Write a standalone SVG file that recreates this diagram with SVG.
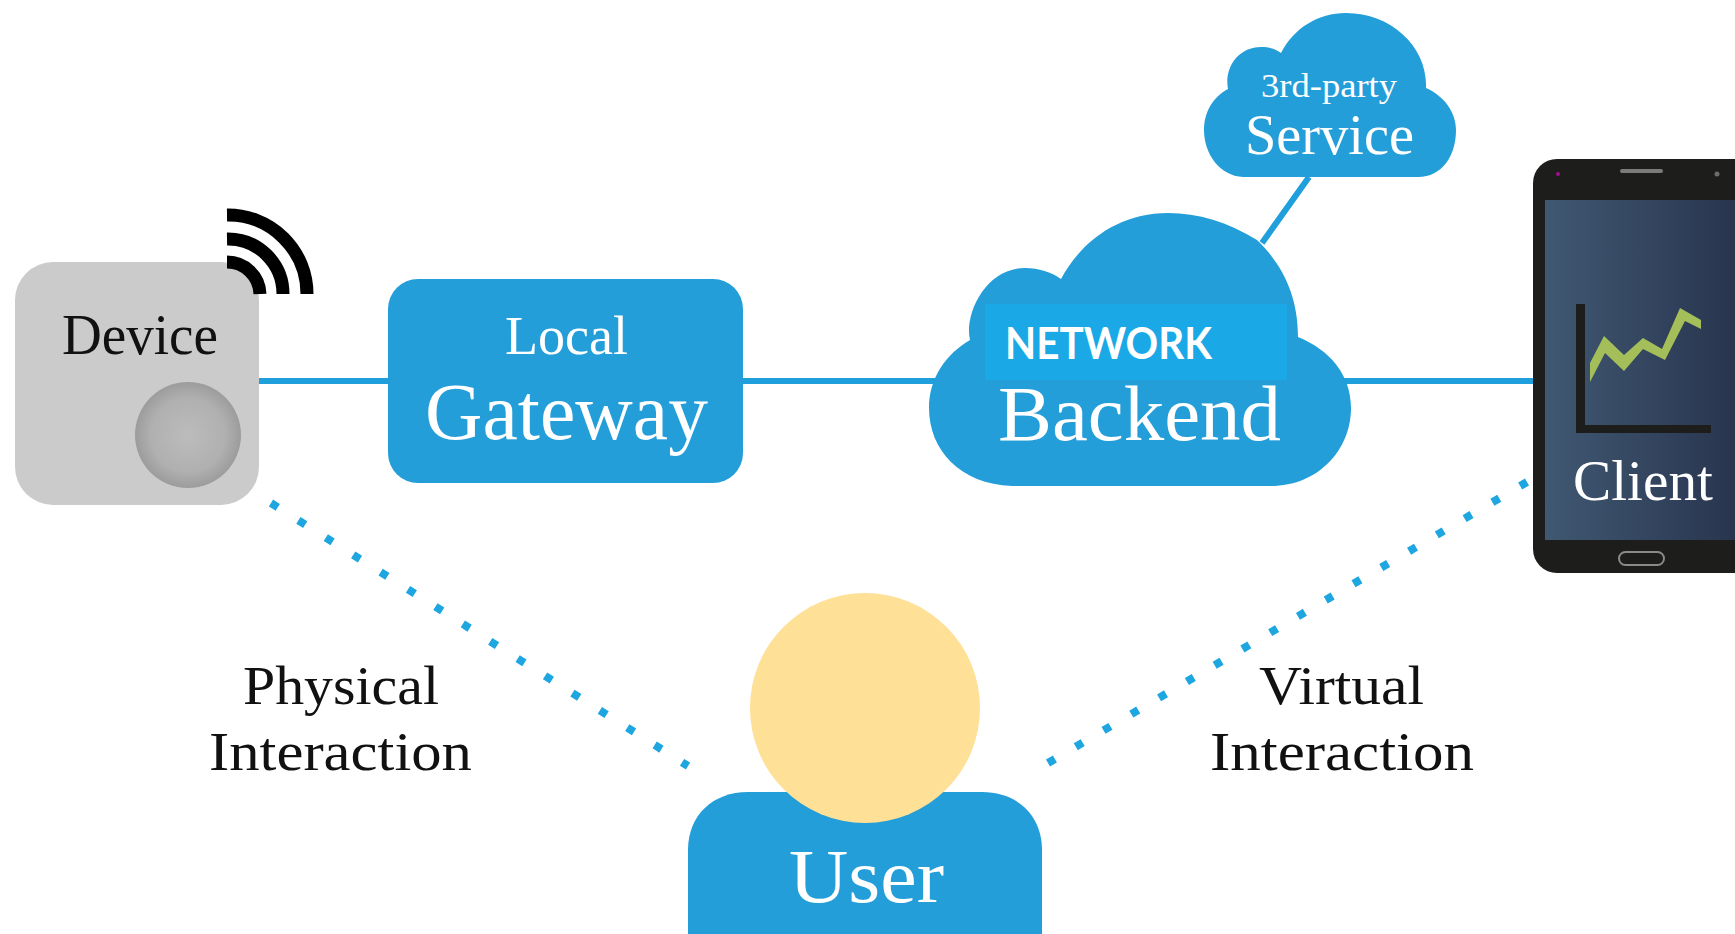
<svg xmlns="http://www.w3.org/2000/svg" width="1735" height="934" viewBox="0 0 1735 934">
<style>
.s{font-family:"Liberation Serif","DejaVu Serif",serif;text-anchor:start}
.w{fill:#fff}.k{fill:#111}
.b{fill:#239ed9}
.l{fill:none;stroke:#1f9fdc;stroke-width:6}
.d{fill:none;stroke:#1ea6e0;stroke-width:8}
.a{fill:none;stroke:#000;stroke-width:13}
</style>
<defs>
<radialGradient id="btn"><stop offset="0" stop-color="#bcbcbc"/><stop offset="0.7" stop-color="#b0b0b0"/><stop offset="1" stop-color="#9c9c9c"/></radialGradient>
<linearGradient id="scr" x1="0" x2="1" y1="0" y2="0"><stop offset="0" stop-color="#405872"/><stop offset="1" stop-color="#29354f"/></linearGradient>
</defs>
<rect width="1735" height="934" fill="#fff"/>
<g id="connectors">
<path class="l" d="M259 381H388M743 381H940M1340 381H1533M1309 177L1262 243"/>
<path class="d" stroke-dasharray="8 24.4" d="M271 503L688 766"/>
<path class="d" stroke-dasharray="8 24.2" d="M1048 763L1527 482"/>
</g>
<g id="device">
<rect x="15" y="262" width="244" height="243" rx="38" fill="#cbcbcb"/>
<circle cx="188" cy="435" r="53" fill="url(#btn)"/>
<path class="a" d="M227 215A79 79 0 0 1 307 294M227 239A55 55 0 0 1 283 294M227 262A33 33 0 0 1 260 294"/>
<text class="s k" x="62" y="354" font-size="58" textLength="156" lengthAdjust="spacingAndGlyphs">Device</text>
</g>
<g id="gateway">
<rect class="b" x="388" y="279" width="355" height="204" rx="30"/>
<text class="s w" x="505" y="354" font-size="54" textLength="123" lengthAdjust="spacingAndGlyphs">Local</text>
<text class="s w" x="425" y="439" font-size="80" textLength="283" lengthAdjust="spacingAndGlyphs">Gateway</text>
</g>
<g id="backend">
<path class="b" d="M1012 486C960 484 929 450 929 408C929 378 946 354 970 340C964 315 985 268 1025 268C1039 268 1051 272 1061 279C1082 240 1120 213 1168 213C1198 213 1228 222 1257 240C1282 264 1298 295 1298 337C1330 350 1351 375 1351 408C1351 450 1318 486 1271 486Z"/>
<rect x="985" y="304" width="302" height="76" fill="#1aa9e6"/>
<text x="1005" y="359" font-family="Lato,'Noto Sans',sans-serif" font-weight="700" font-size="44" fill="#fff" textLength="207" lengthAdjust="spacingAndGlyphs">NETWORK</text>
<text class="s w" x="998" y="440" font-size="78" textLength="283" lengthAdjust="spacingAndGlyphs">Backend</text>
</g>
<g id="service">
<path class="b" d="M1243 177C1220 176 1204 154 1204 130C1204 112 1213 97 1228 89C1224 68 1238 47 1261 47C1269 47 1276 49 1281 53C1294 28 1318 13 1346 13C1392 13 1428 48 1426 88C1444 96 1456 112 1456 130C1456 156 1442 177 1418 177Z"/>
<text class="s w" x="1261" y="97" font-size="34" textLength="136" lengthAdjust="spacingAndGlyphs">3rd-party</text>
<text class="s w" x="1245" y="154" font-size="56" textLength="169" lengthAdjust="spacingAndGlyphs">Service</text>
</g>
<g id="client">
<rect x="1533" y="159" width="240" height="414" rx="24" fill="#1d1d1b"/>
<rect x="1545" y="200" width="190" height="340" fill="url(#scr)"/>
<rect x="1620" y="169" width="43" height="4" rx="2" fill="#7b7b7b"/>
<circle cx="1558" cy="174" r="2" fill="#a0108a"/>
<circle cx="1717" cy="174" r="2.5" fill="#6d6d6d"/>
<rect x="1619" y="552" width="45" height="13" rx="6.5" fill="#1d1d1b" stroke="#8a8a8a" stroke-width="2"/>
<path fill="#1d1d1b" d="M1576 304H1585V425H1711V433H1576Z"/>
<polygon fill="#a4bf5a" points="1590,363 1604,336 1624,355 1643,338 1662,349 1680,308 1701,320 1701,329 1685,321 1665,360 1643,349 1624,371 1605,353 1590,382"/>
<text class="s w" x="1573" y="500" font-size="57" textLength="140" lengthAdjust="spacingAndGlyphs">Client</text>
</g>
<g id="user">
<path class="b" d="M688 934V850C688 815 713 792 748 792H982C1017 792 1042 815 1042 850V934Z"/>
<circle cx="865" cy="708" r="115" fill="#fee097"/>
<text class="s w" x="789" y="902" font-size="76" textLength="155" lengthAdjust="spacingAndGlyphs">User</text>
</g>
<g id="physical">
<text class="s k" x="243" y="704" font-size="54" textLength="196" lengthAdjust="spacingAndGlyphs">Physical</text>
<text class="s k" x="209" y="770" font-size="54" textLength="263" lengthAdjust="spacingAndGlyphs">Interaction</text>
</g>
<g id="virtual">
<text class="s k" x="1259" y="704" font-size="54" textLength="165" lengthAdjust="spacingAndGlyphs">Virtual</text>
<text class="s k" x="1210" y="770" font-size="54" textLength="264" lengthAdjust="spacingAndGlyphs">Interaction</text>
</g>
</svg>
